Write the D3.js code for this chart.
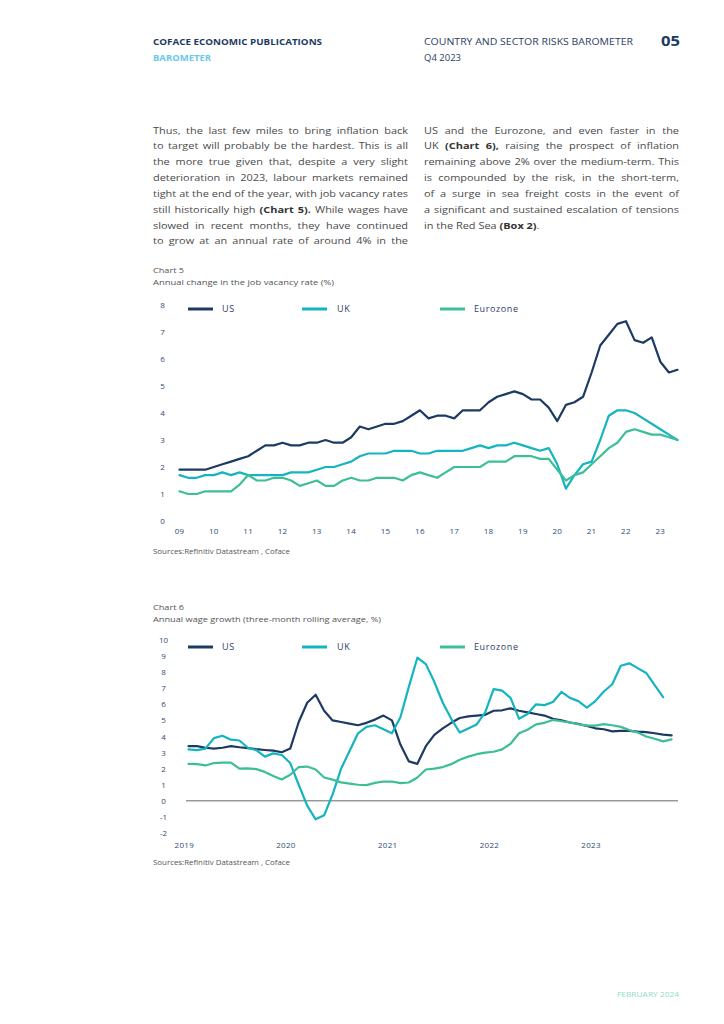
<!DOCTYPE html>
<html><head><meta charset="utf-8">
<script src="https://cdn.jsdelivr.net/npm/d3@7"></script>
<style>body{margin:0;background:#fff;} svg{display:block;}</style>
</head><body>
<svg id="page" width="724" height="1024"></svg>
<script>
// ---------- DATA ----------
// Chart 5: quarterly, 2009Q1 .. 2023Q3
const c5StartYear = 2009;
const c5TickLabels = ["09","10","11","12","13","14","15","16","17","18","19","20","21","22","23"];
const c5YTicks = [0,1,2,3,4,5,6,7,8];
const c5US = [1.9,1.9,1.9,1.9, 2.0,2.1,2.2,2.3, 2.4,2.6,2.8,2.8, 2.9,2.8,2.8,2.9, 2.9,3.0,2.9,2.9,
  3.1,3.5,3.4,3.5, 3.6,3.6,3.7,3.9, 4.1,3.8,3.9,3.9, 3.8,4.1,4.1,4.1, 4.4,4.6,4.7,4.8,
  4.7,4.5,4.5,4.2, 3.7,4.3,4.4,4.6, 5.5,6.5,6.9,7.3, 7.4,6.7,6.6,6.8, 5.9,5.5,5.6];
const c5UK = [1.7,1.6,1.6,1.7, 1.7,1.8,1.7,1.8, 1.7,1.7,1.7,1.7, 1.7,1.8,1.8,1.8, 1.9,2.0,2.0,2.1,
  2.2,2.4,2.5,2.5, 2.5,2.6,2.6,2.6, 2.5,2.5,2.6,2.6, 2.6,2.6,2.7,2.8, 2.7,2.8,2.8,2.9,
  2.8,2.7,2.6,2.7, 2.1,1.2,1.7,2.1, 2.2,3.0,3.9,4.1, 4.1,4.0,3.8,3.6, 3.4,3.2,3.0];
const c5EZ = [1.1,1.0,1.0,1.1, 1.1,1.1,1.1,1.35, 1.7,1.5,1.5,1.6, 1.6,1.5,1.3,1.4, 1.5,1.3,1.3,1.5,
  1.6,1.5,1.5,1.6, 1.6,1.6,1.5,1.7, 1.8,1.7,1.6,1.8, 2.0,2.0,2.0,2.0, 2.2,2.2,2.2,2.4,
  2.4,2.4,2.3,2.3, 1.9,1.5,1.7,1.8, 2.1,2.4,2.7,2.9, 3.3,3.4,3.3,3.2, 3.2,3.1,3.0];

// Chart 6: monthly, from Jan 2019
const c6StartYear = 2019;
const c6TickLabels = ["2019","2020","2021","2022","2023"];
const c6YTicks = [-2,-1,0,1,2,3,4,5,6,7,8,9,10];
const c6US = [3.4,3.4,3.3,3.25,3.3,3.4,3.33,3.28,3.21,3.16,3.12,3.02,
  3.25,4.9,6.1,6.6,5.6,5.0,4.9,4.8,4.7,4.85,5.05,5.3,
  5.0,3.5,2.45,2.3,3.4,4.1,4.5,4.85,5.15,5.25,5.3,5.35,
  5.6,5.63,5.75,5.6,5.5,5.4,5.3,5.1,5.0,4.87,4.78,4.66,
  4.51,4.45,4.32,4.35,4.35,4.3,4.27,4.2,4.12,4.07];
const c6UK = [3.2,3.15,3.25,3.9,4.05,3.8,3.75,3.3,3.15,2.75,2.95,2.85,
  2.35,1.0,-0.3,-1.15,-0.9,0.4,2.0,3.1,4.2,4.6,4.7,4.45,
  4.2,5.2,7.1,8.9,8.5,7.4,6.1,5.1,4.25,4.5,4.75,5.5,
  6.95,6.85,6.4,5.1,5.4,6.0,5.95,6.15,6.77,6.4,6.2,5.8,
  6.2,6.8,7.25,8.4,8.55,8.25,7.95,7.2,6.45];
const c6EZ = [2.3,2.28,2.2,2.35,2.38,2.38,2.0,2.02,1.97,1.8,1.55,1.33,
  1.62,2.1,2.13,1.95,1.45,1.32,1.15,1.07,1.0,0.98,1.12,1.2,
  1.2,1.1,1.14,1.45,1.95,2.0,2.1,2.28,2.55,2.75,2.9,3.0,
  3.05,3.2,3.55,4.2,4.42,4.75,4.85,5.03,4.95,4.88,4.76,4.68,
  4.68,4.77,4.7,4.6,4.4,4.25,4.0,3.86,3.7,3.82];

const seriesNames = ["US","UK","Eurozone"];

// ---------- STYLE ----------
const FONT = "'Open Sans', 'DejaVu Sans', sans-serif";
const NAVY = "#1d3a62", TEAL = "#14b4c0", GREEN = "#3cbf98";
const COLORS = [NAVY, TEAL, GREEN];
const TXT = "#4a4a4a";

const svg = d3.select("#page").style("font-family", FONT);

// ---------- HEADER ----------
function txt(x, y, s, o) {
  const t = svg.append("text").attr("x", x).attr("y", y).text(s)
    .attr("font-size", o.size).attr("fill", o.fill).attr("font-weight", o.weight || "normal");
  if (o.len) t.attr("textLength", o.len).attr("lengthAdjust", "spacingAndGlyphs");
  if (o.anchor) t.attr("text-anchor", o.anchor);
  return t;
}
txt(153, 45, "COFACE ECONOMIC PUBLICATIONS", {size: 8.5, fill: NAVY, weight: "bold", len: 169});
txt(153, 61, "BAROMETER", {size: 8.5, fill: "#6cc7ec", weight: "bold", len: 58});
txt(424, 45, "COUNTRY AND SECTOR RISKS BAROMETER", {size: 8.5, fill: "#2b4066", len: 209});
txt(424, 61, "Q4 2023", {size: 8.5, fill: "#2b4066", len: 37});
txt(661, 46, "05", {size: 14, fill: NAVY, weight: "bold", len: 19});

// ---------- BODY TEXT ----------
const leftLines = [
  [["Thus, the last few miles to bring inflation back", 0]],
  [["to target will probably be the hardest. This is all", 0]],
  [["the more true given that, despite a very slight", 0]],
  [["deterioration in 2023, labour markets remained", 0]],
  [["tight at the end of the year, with job vacancy rates", 0]],
  [["still historically high", 0], ["(Chart 5).", 1], ["While wages have", 0]],
  [["slowed in recent months, they have continued", 0]],
  [["to grow at an annual rate of around 4% in the", 0]]
];
const rightLines = [
  [["US and the Eurozone, and even faster in the", 0]],
  [["UK", 0], ["(Chart 6),", 1], ["raising the prospect of inflation", 0]],
  [["remaining above 2% over the medium-term. This", 0]],
  [["is compounded by the risk, in the short-term,", 0]],
  [["of a surge in sea freight costs in the event of", 0]],
  [["a significant and sustained escalation of tensions", 0]],
  [["in the Red Sea", 0], ["(Box 2)", 1], [".", 0, true]]
];
function drawLine(x0, width, y, segs, justify) {
  const g = svg.append("g");
  let words = [];
  segs.forEach(([s, b, glue]) => {
    s.split(" ").forEach((w, i) => words.push({w, b, glue: glue && i === 0}));
  });
  const size = 9.6, stretch = 1.14;
  const nodes = words.map(d => g.append("text").attr("y", y).text(d.w)
    .attr("font-size", size).attr("fill", d.b ? "#333" : TXT)
    .attr("font-weight", d.b ? "bold" : "normal"));
  const widths = nodes.map(n => n.node().getComputedTextLength());
  const sum = d3.sum(widths) * stretch;
  const gaps = words.filter((d, i) => i > 0 && !d.glue).length;
  let gap = justify ? (width - sum) / gaps : size * 0.3;
  let scale = stretch;
  if (gap < 1.8) { gap = 1.8; scale = (width - gaps * gap) / d3.sum(widths); }
  let x = x0;
  nodes.forEach((n, i) => {
    if (i > 0 && !words[i].glue) x += gap;
    n.attr("x", x).attr("textLength", widths[i] * scale).attr("lengthAdjust", "spacingAndGlyphs");
    x += widths[i] * scale;
  });
}
leftLines.forEach((l, i) => drawLine(153, 255, 133.5 + i * 15.85, l, true));
rightLines.forEach((l, i) => drawLine(424, 255, 133.5 + i * 15.85, l, i < rightLines.length - 1));

// ---------- CHART HELPERS ----------
function legend(y) {
  const xs = [[188, 222], [302, 337], [440, 474]];
  seriesNames.forEach((n, i) => {
    svg.append("line").attr("x1", xs[i][0]).attr("x2", xs[i][0] + 25)
      .attr("y1", y).attr("y2", y).attr("stroke", COLORS[i]).attr("stroke-width", 3);
    svg.append("text").attr("x", xs[i][1]).attr("y", y + 3.2).text(n)
      .attr("font-size", 9).attr("fill", "#2b4066").attr("letter-spacing", 0.6);
  });
}
function drawSeries(data, x, y, color) {
  svg.append("path").datum(data)
    .attr("d", d3.line().x(d => x(d[0])).y(d => y(d[1])))
    .attr("fill", "none").attr("stroke", color).attr("stroke-width", 2.2)
    .attr("stroke-linejoin", "round").attr("stroke-linecap", "round");
}

// ---------- CHART 5 ----------
txt(153, 273, "Chart 5", {size: 7.5, fill: "#555", len: 31});
txt(153, 285, "Annual change in the job vacancy rate (%)", {size: 7.5, fill: "#555", len: 181});
{
  const x = d3.scaleLinear().domain([2009, 2023.5]).range([179.5, 677.5]);
  const y = d3.scaleLinear().domain([0, 8]).range([521, 305]);
  svg.append("g").selectAll("text").data(c5YTicks).join("text")
    .attr("x", 162.5).attr("y", d => y(d) + 3).attr("text-anchor", "middle")
    .attr("font-size", 8).attr("fill", "#2d4a73").text(d => d);
  svg.append("g").selectAll("text").data(c5TickLabels).join("text")
    .attr("x", (d, i) => x(c5StartYear + i)).attr("y", 534).attr("text-anchor", "middle")
    .attr("font-size", 8).attr("fill", "#2d4a73").attr("letter-spacing", 0.3).text(d => d);
  [c5US, c5UK, c5EZ].forEach((s, k) => {
    drawSeries(s.map((v, i) => [c5StartYear + i / 4, v]), x, y, COLORS[k]);
  });
  legend(309);
}
txt(153, 554, "Sources:Refinitiv Datastream , Coface", {size: 6.5, fill: "#555", len: 137});

// ---------- CHART 6 ----------
txt(153, 610, "Chart 6", {size: 7.5, fill: "#555", len: 31});
txt(153, 622, "Annual wage growth (three-month rolling average, %)", {size: 7.5, fill: "#555", len: 228});
{
  const x = d3.scaleLinear().domain([2019, 2024]).range([184.3, 692.8]);
  const y = d3.scaleLinear().domain([-2, 10]).range([833, 640]);
  svg.append("line").attr("x1", 186).attr("x2", 678).attr("y1", y(0)).attr("y2", y(0))
    .attr("stroke", "#666").attr("stroke-width", 1);
  svg.append("g").selectAll("text").data(c6YTicks).join("text")
    .attr("x", 163.5).attr("y", d => y(d) + 3).attr("text-anchor", "middle")
    .attr("font-size", 8).attr("fill", "#2d4a73").text(d => d);
  svg.append("g").selectAll("text").data(c6TickLabels).join("text")
    .attr("x", (d, i) => x(c6StartYear + i)).attr("y", 848).attr("text-anchor", "middle")
    .attr("font-size", 8).attr("fill", "#2d4a73").attr("letter-spacing", 0.3).text(d => d);
  [c6US, c6UK, c6EZ].forEach((s, k) => {
    drawSeries(s.map((v, i) => [c6StartYear + (i + 0.5) / 12, v]), x, y, COLORS[k]);
  });
  legend(647);
}
txt(153, 865, "Sources:Refinitiv Datastream , Coface", {size: 6.5, fill: "#555", len: 137});

// ---------- FOOTER ----------
txt(617, 997, "FEBRUARY 2024", {size: 7, fill: "#8fdcc0", len: 62});
</script>
</body></html>
